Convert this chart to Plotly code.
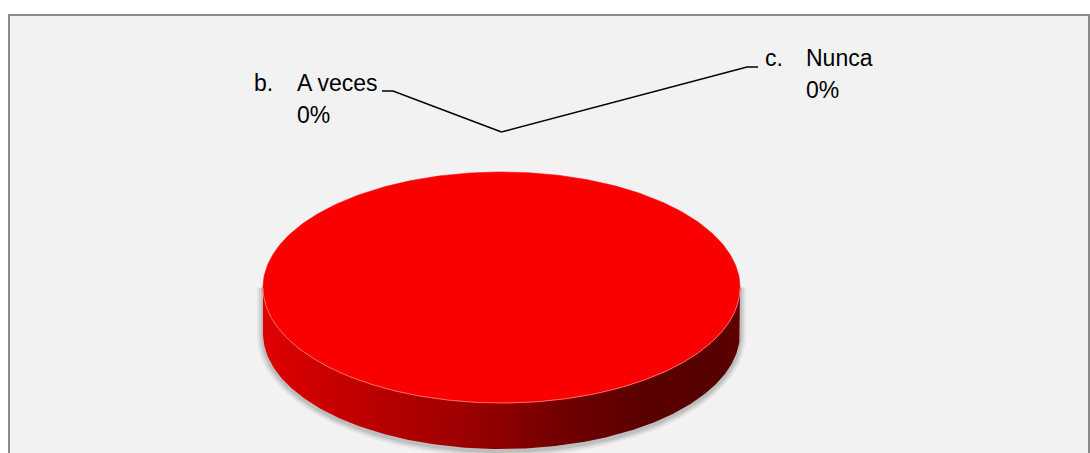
import numpy as np
import plotly.graph_objects as go

# ---- data ----
categories = ["a. Siempre", "b. A veces", "c. Nunca"]
values = [100, 0, 0]
top_colors = ["#fb0000", "#1f4e9b", "#8fb03c"]

# ---- layout constants (pixels) ----
W, H = 1090, 453
CX, CY, RX, RY, DEPTH = 501.5, 287.5, 238.5, 115.5, 46

total = float(sum(values))
fracs = [v / total for v in values]

fig = go.Figure()

def ell(t, dy=0.0):
    return CX + RX * np.cos(t), CY - RY * np.sin(t) + dy

# soft shadow under the side
for k, a in enumerate([0.05, 0.07, 0.10]):
    grow = 6 - 2 * k
    t = np.linspace(-np.pi, 0, 200)
    xs = CX + (RX + grow) * np.cos(t)
    ys = CY - (RY + grow) * np.sin(t) + DEPTH + 2
    xs2 = CX + (RX + grow) * np.cos(t[::-1])
    ys2 = CY + 0 * t
    fig.add_trace(go.Scatter(x=np.r_[xs, xs2], y=np.r_[ys, ys2], fill="toself",
                             fillcolor=f"rgba(0,0,0,{a})", line=dict(width=0),
                             mode="lines", hoverinfo="skip", showlegend=False))

cum = 0.0
slices = []
for cat, f, col in zip(categories, fracs, top_colors):
    t0 = np.pi / 2 - 2 * np.pi * cum
    t1 = np.pi / 2 - 2 * np.pi * (cum + f)
    slices.append((cat, f, col, t0, t1))
    cum += f

# sides (front half only)
for cat, f, col, t0, t1 in slices:
    if f <= 0:
        continue
    lo, hi = max(t1, -np.pi), min(t0, 0.0)
    if hi <= lo:
        continue
    t = np.linspace(lo, hi, 300)
    ux, uy = ell(t)
    bx, by = ell(t[::-1], DEPTH)
    fig.add_trace(go.Scatter(
        x=np.r_[ux, bx], y=np.r_[uy, by], fill="toself", mode="lines",
        line=dict(width=0),
        fillgradient=dict(type="horizontal", colorscale=[
            [0, "#e00000"], [0.15, "#c60000"], [0.4, "#a00000"], [0.5, "#8c0000"],
            [0.62, "#720000"], [0.8, "#5a0000"], [0.95, "#560000"], [1, "#600000"]]),
        hoverinfo="skip", showlegend=False))

# tops
for cat, f, col, t0, t1 in slices:
    if f <= 0:
        continue
    t = np.linspace(t0, t1, 400)
    x, y = ell(t)
    if f < 1:
        x = np.r_[CX, x, CX]
        y = np.r_[CY, y, CY]
    fig.add_trace(go.Scatter(x=x, y=y, fill="toself", fillcolor=col, mode="lines",
                             line=dict(width=0.6, color=col),
                             hoverinfo="skip", showlegend=False))
    # light front rim
    lo, hi = max(t1, -np.pi), min(t0, 0.0)
    if hi > lo:
        tr = np.linspace(lo, hi, 300)
        rx_, ry_ = ell(tr)
        fig.add_trace(go.Scatter(x=rx_, y=ry_, mode="lines",
                                 line=dict(width=1, color="#ff6a5a"),
                                 hoverinfo="skip", showlegend=False))

# labels for zero slices
label_pos = {"b. A veces": (252, 295, 83, "right"), "c. Nunca": (763, 804, 58, "left")}
FONT = dict(family="Liberation Sans, Arial", size=23, color="#000")
for cat, f, col, t0, t1 in slices:
    if cat not in label_pos:
        continue
    xl, xt, yt, side = label_pos[cat]
    prefix, name = cat.split(" ", 1)
    pct = f"{round(f * 100)}%"
    fig.add_annotation(x=xl, y=yt, text=prefix, showarrow=False, xanchor="left",
                       yanchor="middle", font=FONT)
    fig.add_annotation(x=xt, y=yt, text=name, showarrow=False, xanchor="left",
                       yanchor="middle", font=FONT)
    fig.add_annotation(x=xt, y=yt + 32, text=pct, showarrow=False, xanchor="left",
                       yanchor="middle", font=FONT)
    tm = (t0 + t1) / 2
    px, py = ell(tm, -40)
    if side == "right":
        lx = [382, 393, px]
        ly = [91, 91, py]
    else:
        lx = [px, 747, 758]
        ly = [py, 67, 67]
    fig.add_trace(go.Scatter(x=lx, y=ly, mode="lines", line=dict(color="#000", width=1.5),
                             hoverinfo="skip", showlegend=False))

fig.update_layout(
    width=W, height=H, margin=dict(l=0, r=0, t=0, b=0),
    paper_bgcolor="#ffffff", plot_bgcolor="rgba(0,0,0,0)",
    xaxis=dict(range=[0, W], visible=False, fixedrange=True),
    yaxis=dict(range=[H, 0], visible=False, fixedrange=True),
    shapes=[dict(type="rect", xref="x", yref="y", x0=9, y0=15, x1=1089, y1=470,
                 fillcolor="#f2f2f2", line=dict(color="#8a8a8a", width=2), layer="below")],
)

fig.write_html("out.html")
